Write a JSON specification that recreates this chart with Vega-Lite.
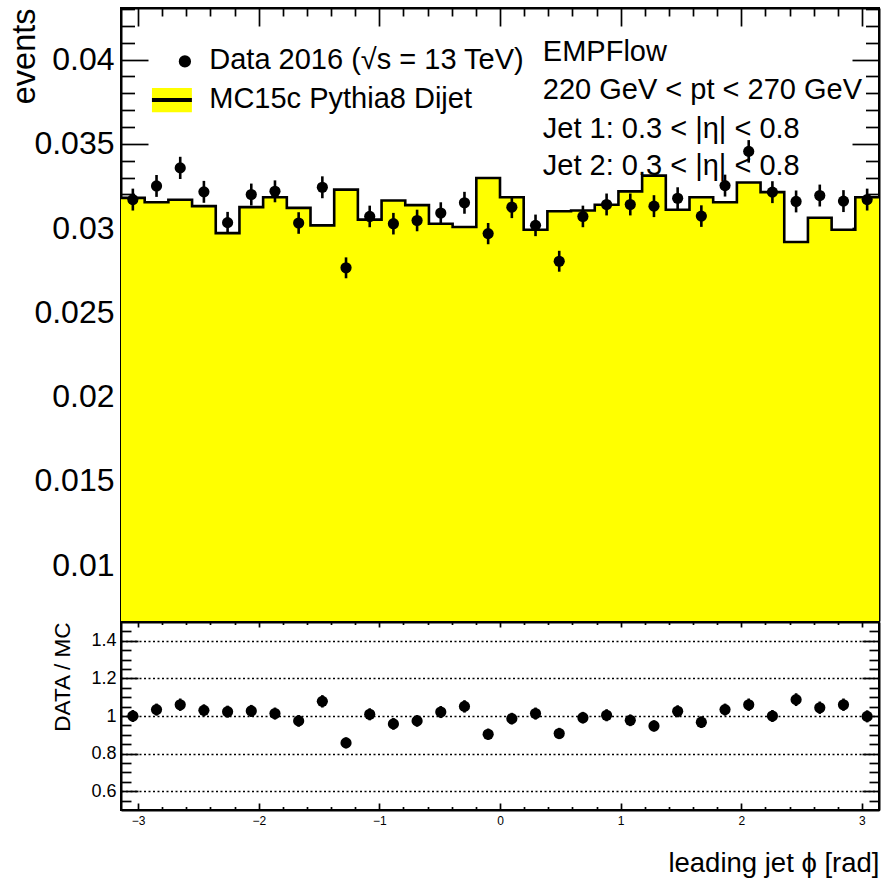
{
  "$schema": "https://vega.github.io/schema/vega-lite/v6.json",
  "padding": {"left": 6, "top": 6, "right": 0, "bottom": 0},
  "spacing": 1,
  "bounds": "flush",
  "datasets": {
    "bins": [
      {"bin": 0, "lo": -3.1416, "hi": -2.9452, "phi": -3.0434, "mc": 0.03179, "data": 0.03169, "err": 0.00065, "ratio": 1.000, "rerr": 0.032},
      {"bin": 1, "lo": -2.9452, "hi": -2.7489, "phi": -2.8471, "mc": 0.03153, "data": 0.03250, "err": 0.00065, "ratio": 1.034, "rerr": 0.032},
      {"bin": 2, "lo": -2.7489, "hi": -2.5525, "phi": -2.6507, "mc": 0.03168, "data": 0.03357, "err": 0.00066, "ratio": 1.060, "rerr": 0.033},
      {"bin": 3, "lo": -2.5525, "hi": -2.3562, "phi": -2.4544, "mc": 0.03130, "data": 0.03215, "err": 0.00065, "ratio": 1.030, "rerr": 0.032},
      {"bin": 4, "lo": -2.3562, "hi": -2.1598, "phi": -2.2580, "mc": 0.02970, "data": 0.03032, "err": 0.00064, "ratio": 1.023, "rerr": 0.032},
      {"bin": 5, "lo": -2.1598, "hi": -1.9635, "phi": -2.0617, "mc": 0.03124, "data": 0.03199, "err": 0.00065, "ratio": 1.027, "rerr": 0.032},
      {"bin": 6, "lo": -1.9635, "hi": -1.7671, "phi": -1.8653, "mc": 0.03183, "data": 0.03218, "err": 0.00065, "ratio": 1.013, "rerr": 0.032},
      {"bin": 7, "lo": -1.7671, "hi": -1.5708, "phi": -1.6690, "mc": 0.03120, "data": 0.03030, "err": 0.00064, "ratio": 0.974, "rerr": 0.031},
      {"bin": 8, "lo": -1.5708, "hi": -1.3744, "phi": -1.4726, "mc": 0.03016, "data": 0.03242, "err": 0.00065, "ratio": 1.078, "rerr": 0.033},
      {"bin": 9, "lo": -1.3744, "hi": -1.1781, "phi": -1.2763, "mc": 0.03228, "data": 0.02764, "err": 0.00062, "ratio": 0.857, "rerr": 0.029},
      {"bin": 10, "lo": -1.1781, "hi": -0.9817, "phi": -1.0799, "mc": 0.03050, "data": 0.03069, "err": 0.00064, "ratio": 1.009, "rerr": 0.032},
      {"bin": 11, "lo": -0.9817, "hi": -0.7854, "phi": -0.8836, "mc": 0.03164, "data": 0.03026, "err": 0.00064, "ratio": 0.958, "rerr": 0.031},
      {"bin": 12, "lo": -0.7854, "hi": -0.5890, "phi": -0.6872, "mc": 0.03136, "data": 0.03045, "err": 0.00064, "ratio": 0.974, "rerr": 0.031},
      {"bin": 13, "lo": -0.5890, "hi": -0.3927, "phi": -0.4909, "mc": 0.03026, "data": 0.03089, "err": 0.00064, "ratio": 1.021, "rerr": 0.032},
      {"bin": 14, "lo": -0.3927, "hi": -0.1963, "phi": -0.2945, "mc": 0.03006, "data": 0.03150, "err": 0.00065, "ratio": 1.051, "rerr": 0.033},
      {"bin": 15, "lo": -0.1963, "hi": 0.0, "phi": -0.0982, "mc": 0.03297, "data": 0.02967, "err": 0.00063, "ratio": 0.903, "rerr": 0.030},
      {"bin": 16, "lo": 0.0, "hi": 0.1963, "phi": 0.0982, "mc": 0.03183, "data": 0.03124, "err": 0.00065, "ratio": 0.986, "rerr": 0.031},
      {"bin": 17, "lo": 0.1963, "hi": 0.3927, "phi": 0.2945, "mc": 0.02990, "data": 0.03016, "err": 0.00064, "ratio": 1.013, "rerr": 0.032},
      {"bin": 18, "lo": 0.3927, "hi": 0.5890, "phi": 0.4909, "mc": 0.03100, "data": 0.02803, "err": 0.00062, "ratio": 0.907, "rerr": 0.030},
      {"bin": 19, "lo": 0.5890, "hi": 0.7854, "phi": 0.6872, "mc": 0.03104, "data": 0.03069, "err": 0.00064, "ratio": 0.991, "rerr": 0.031},
      {"bin": 20, "lo": 0.7854, "hi": 0.9817, "phi": 0.8836, "mc": 0.03138, "data": 0.03140, "err": 0.00065, "ratio": 1.004, "rerr": 0.032},
      {"bin": 21, "lo": 0.9817, "hi": 1.1781, "phi": 1.0799, "mc": 0.03218, "data": 0.03140, "err": 0.00065, "ratio": 0.977, "rerr": 0.031},
      {"bin": 22, "lo": 1.1781, "hi": 1.3744, "phi": 1.2763, "mc": 0.03311, "data": 0.03130, "err": 0.00065, "ratio": 0.947, "rerr": 0.030},
      {"bin": 23, "lo": 1.3744, "hi": 1.5708, "phi": 1.4726, "mc": 0.03109, "data": 0.03177, "err": 0.00065, "ratio": 1.025, "rerr": 0.032},
      {"bin": 24, "lo": 1.5708, "hi": 1.7671, "phi": 1.6690, "mc": 0.03183, "data": 0.03071, "err": 0.00064, "ratio": 0.967, "rerr": 0.031},
      {"bin": 25, "lo": 1.7671, "hi": 1.9635, "phi": 1.8653, "mc": 0.03153, "data": 0.03252, "err": 0.00065, "ratio": 1.034, "rerr": 0.032},
      {"bin": 26, "lo": 1.9635, "hi": 2.1598, "phi": 2.0617, "mc": 0.03270, "data": 0.03455, "err": 0.00067, "ratio": 1.060, "rerr": 0.033},
      {"bin": 27, "lo": 2.1598, "hi": 2.3562, "phi": 2.2580, "mc": 0.03213, "data": 0.03213, "err": 0.00065, "ratio": 1.000, "rerr": 0.032},
      {"bin": 28, "lo": 2.3562, "hi": 2.5525, "phi": 2.4544, "mc": 0.02917, "data": 0.03158, "err": 0.00065, "ratio": 1.087, "rerr": 0.034},
      {"bin": 29, "lo": 2.5525, "hi": 2.7489, "phi": 2.6507, "mc": 0.03061, "data": 0.03193, "err": 0.00065, "ratio": 1.044, "rerr": 0.033},
      {"bin": 30, "lo": 2.7489, "hi": 2.9452, "phi": 2.8471, "mc": 0.02990, "data": 0.03160, "err": 0.00065, "ratio": 1.060, "rerr": 0.033},
      {"bin": 31, "lo": 2.9452, "hi": 3.1416, "phi": 3.0434, "mc": 0.03183, "data": 0.03169, "err": 0.00065, "ratio": 0.998, "rerr": 0.032}
    ],
    "notes": [
      {"label": "EMPFlow", "px": 0.355, "py": 0.03991},
      {"label": "220 GeV < pt < 270 GeV", "px": 0.355, "py": 0.03766},
      {"label": "Jet 1: 0.3 < |η| < 0.8", "px": 0.355, "py": 0.03532},
      {"label": "Jet 2: 0.3 < |η| < 0.8", "px": 0.355, "py": 0.03315},
      {"label": "Data 2016 (√s = 13 TeV)", "px": -2.41, "py": 0.03944},
      {"label": "MC15c Pythia8 Dijet", "px": -2.41, "py": 0.03712}
    ]
  },
  "vconcat": [
    {
      "width": 758,
      "height": 613,
      "layer": [
        {
          "data": {"name": "bins"},
          "transform": [{"fold": ["lo", "hi"], "as": ["edge", "xe"]}],
          "mark": {"type": "area", "color": "#ffff00", "opacity": 1, "clip": true, "interpolate": "linear"},
          "encoding": {
            "x": {"field": "xe", "type": "quantitative",
              "scale": {"domain": [-3.14159, 3.14159], "nice": false, "zero": false},
              "axis": {"orient": "top", "title": null, "labels": false,
                "values": [-3,-2.8,-2.6,-2.4,-2.2,-2,-1.8,-1.6,-1.4,-1.2,-1,-0.8,-0.6,-0.4,-0.2,0,0.2,0.4,0.6,0.8,1,1.2,1.4,1.6,1.8,2,2.2,2.4,2.6,2.8,3],
                "tickSize": {"condition": {"test": "abs(datum.value - round(datum.value)) < 1e-6", "value": -18}, "value": -8}}},
            "y": {"field": "mc", "type": "quantitative", "stack": null,
              "scale": {"domain": [0.00668, 0.04306], "nice": false, "zero": false},
              "axis": {"orient": "left",
                "values": [0.007,0.008,0.009,0.010,0.011,0.012,0.013,0.014,0.015,0.016,0.017,0.018,0.019,0.020,0.021,0.022,0.023,0.024,0.025,0.026,0.027,0.028,0.029,0.030,0.031,0.032,0.033,0.034,0.035,0.036,0.037,0.038,0.039,0.040,0.041,0.042,0.043],
                "labelExpr": "abs(datum.value*200 - round(datum.value*200)) < 1e-6 ? format(datum.value, '~g') : ''",
                "labelFontSize": {"condition": {"test": "abs(datum.value*200 - round(datum.value*200)) < 1e-6", "value": 32}, "value": 0},
                "labelPadding": 34,
                "tickSize": {"condition": {"test": "abs(datum.value*200 - round(datum.value*200)) < 1e-6", "value": -27}, "value": -13.5},
                "title": "events", "titleFontSize": 32.5, "titleAngle": -90, "titleX": -87, "titleY": 0,
                "titleAlign": "right", "titleBaseline": "alphabetic"}},
            "order": [{"field": "bin", "type": "quantitative"}, {"field": "edge", "type": "ordinal", "sort": "descending"}]
          }
        },
        {
          "data": {"name": "bins"},
          "transform": [{"fold": ["lo", "hi"], "as": ["edge", "xe"]}],
          "mark": {"type": "line", "color": "black", "strokeWidth": 2.6, "clip": true, "interpolate": "linear", "strokeJoin": "miter"},
          "encoding": {
            "x": {"field": "xe", "type": "quantitative",
              "scale": {"domain": [-3.14159, 3.14159], "nice": false, "zero": false}, "axis": null},
            "y": {"field": "mc", "type": "quantitative",
              "scale": {"domain": [0.00668, 0.04306], "nice": false, "zero": false},
              "axis": {"orient": "right", "labels": false, "title": null,
                "values": [0.007,0.008,0.009,0.010,0.011,0.012,0.013,0.014,0.015,0.016,0.017,0.018,0.019,0.020,0.021,0.022,0.023,0.024,0.025,0.026,0.027,0.028,0.029,0.030,0.031,0.032,0.033,0.034,0.035,0.036,0.037,0.038,0.039,0.040,0.041,0.042,0.043],
                "tickSize": {"condition": {"test": "abs(datum.value*200 - round(datum.value*200)) < 1e-6", "value": -27}, "value": -13.5}}},
            "order": [{"field": "bin", "type": "quantitative"}, {"field": "edge", "type": "ordinal", "sort": "descending"}]
          }
        },
        {
          "data": {"name": "bins"},
          "mark": {"type": "errorbar", "color": "black", "thickness": 2.6},
          "encoding": {
            "x": {"field": "phi", "type": "quantitative",
              "scale": {"domain": [-3.14159, 3.14159], "nice": false, "zero": false},
              "axis": {"orient": "bottom", "labels": false, "ticks": false, "title": null}},
            "y": {"field": "data", "type": "quantitative",
              "scale": {"domain": [0.00668, 0.04306], "nice": false, "zero": false}, "axis": null},
            "yError": {"field": "err"}
          }
        },
        {
          "data": {"name": "bins"},
          "mark": {"type": "circle", "color": "black", "size": 125, "opacity": 1},
          "encoding": {
            "x": {"field": "phi", "type": "quantitative",
              "scale": {"domain": [-3.14159, 3.14159], "nice": false, "zero": false}, "axis": null},
            "y": {"field": "data", "type": "quantitative",
              "scale": {"domain": [0.00668, 0.04306], "nice": false, "zero": false}, "axis": null}
          }
        },
        {
          "data": {"values": [{}]},
          "mark": {"type": "rect", "color": "#ffff00", "opacity": 1},
          "encoding": {
            "x": {"datum": -2.885, "type": "quantitative", "axis": null},
            "x2": {"datum": -2.554},
            "y": {"datum": 0.03831, "type": "quantitative", "axis": null},
            "y2": {"datum": 0.03688}
          }
        },
        {
          "data": {"values": [{}]},
          "mark": {"type": "rule", "color": "black", "strokeWidth": 4},
          "encoding": {
            "x": {"datum": -2.885, "type": "quantitative", "axis": null},
            "x2": {"datum": -2.554},
            "y": {"datum": 0.0376, "type": "quantitative", "axis": null}
          }
        },
        {
          "data": {"values": [{}]},
          "mark": {"type": "circle", "color": "black", "size": 150, "opacity": 1},
          "encoding": {
            "x": {"datum": -2.612, "type": "quantitative", "axis": null},
            "y": {"datum": 0.03989, "type": "quantitative", "axis": null}
          }
        },
        {
          "data": {"name": "notes"},
          "mark": {"type": "text", "align": "left", "baseline": "alphabetic", "fontSize": 29, "font": "Liberation Sans", "color": "black"},
          "encoding": {
            "x": {"field": "px", "type": "quantitative", "axis": null},
            "y": {"field": "py", "type": "quantitative", "axis": null},
            "text": {"field": "label"}
          }
        }
      ],
      "resolve": {"axis": {"x": "independent", "y": "independent"}}
    },
    {
      "width": 758,
      "height": 188,
      "layer": [
        {
          "data": {"name": "bins"},
          "mark": {"type": "errorbar", "color": "black", "thickness": 2.6},
          "encoding": {
            "x": {"field": "phi", "type": "quantitative",
              "scale": {"domain": [-3.14159, 3.14159], "nice": false, "zero": false},
              "axis": {"orient": "bottom",
                "values": [-3,-2.8,-2.6,-2.4,-2.2,-2,-1.8,-1.6,-1.4,-1.2,-1,-0.8,-0.6,-0.4,-0.2,0,0.2,0.4,0.6,0.8,1,1.2,1.4,1.6,1.8,2,2.2,2.4,2.6,2.8,3],
                "labelExpr": "abs(datum.value - round(datum.value)) < 1e-6 ? format(datum.value, 'd') : ''",
                "labelFontSize": 12, "labelPadding": 12.5,
                "tickSize": {"condition": {"test": "abs(datum.value - round(datum.value)) < 1e-6", "value": -7}, "value": -3.5},
                "title": "leading jet ϕ [rad]", "titleFontSize": 27.5, "titleX": 758, "titleY": 61,
                "titleAlign": "right", "titleBaseline": "alphabetic"}},
            "y": {"field": "ratio", "type": "quantitative",
              "scale": {"domain": [0.5, 1.5], "nice": false, "zero": false},
              "axis": {"orient": "left",
                "values": [0.55,0.6,0.65,0.7,0.75,0.8,0.85,0.9,0.95,1.0,1.05,1.1,1.15,1.2,1.25,1.3,1.35,1.4,1.45],
                "labelExpr": "abs(datum.value*5 - round(datum.value*5)) < 1e-6 ? format(datum.value, '~g') : ''",
                "labelFontSize": {"condition": {"test": "abs(datum.value*5 - round(datum.value*5)) < 1e-6", "value": 18}, "value": 0},
                "labelPadding": 22,
                "tickSize": {"condition": {"test": "abs(datum.value*5 - round(datum.value*5)) < 1e-6", "value": -17}, "value": -10},
                "grid": true, "gridColor": "black", "gridDash": [2, 2.5], "gridWidth": 1.6,
                "gridOpacity": {"condition": {"test": "abs(datum.value*5 - round(datum.value*5)) < 1e-6", "value": 1}, "value": 0},
                "title": "DATA / MC", "titleFontSize": 22.5, "titleAngle": -90, "titleX": -52, "titleY": 0,
                "titleAlign": "right", "titleBaseline": "alphabetic"}},
            "yError": {"field": "rerr"}
          }
        },
        {
          "data": {"name": "bins"},
          "mark": {"type": "circle", "color": "black", "size": 125, "opacity": 1},
          "encoding": {
            "x": {"field": "phi", "type": "quantitative",
              "scale": {"domain": [-3.14159, 3.14159], "nice": false, "zero": false},
              "axis": {"orient": "top", "labels": false, "title": null,
                "values": [-3,-2.8,-2.6,-2.4,-2.2,-2,-1.8,-1.6,-1.4,-1.2,-1,-0.8,-0.6,-0.4,-0.2,0,0.2,0.4,0.6,0.8,1,1.2,1.4,1.6,1.8,2,2.2,2.4,2.6,2.8,3],
                "tickSize": {"condition": {"test": "abs(datum.value - round(datum.value)) < 1e-6", "value": -5}, "value": -2.5}}},
            "y": {"field": "ratio", "type": "quantitative",
              "scale": {"domain": [0.5, 1.5], "nice": false, "zero": false},
              "axis": {"orient": "right", "labels": false, "title": null, "grid": false,
                "values": [0.55,0.6,0.65,0.7,0.75,0.8,0.85,0.9,0.95,1.0,1.05,1.1,1.15,1.2,1.25,1.3,1.35,1.4,1.45],
                "tickSize": {"condition": {"test": "abs(datum.value*5 - round(datum.value*5)) < 1e-6", "value": -17}, "value": -10}}}
          }
        }
      ],
      "resolve": {"axis": {"x": "independent", "y": "independent"}}
    }
  ],
  "config": {
    "font": "Liberation Sans",
    "view": {"stroke": "black", "strokeWidth": 2},
    "axis": {
      "labelFont": "Liberation Sans", "titleFont": "Liberation Sans", "titleFontWeight": "normal",
      "labelColor": "black", "titleColor": "black", "tickColor": "black", "domainColor": "black",
      "domainWidth": 2, "tickWidth": 1.7, "zindex": 1, "grid": false,
      "labelOverlap": false, "labelFlush": false, "labelBound": false
    }
  }
}
